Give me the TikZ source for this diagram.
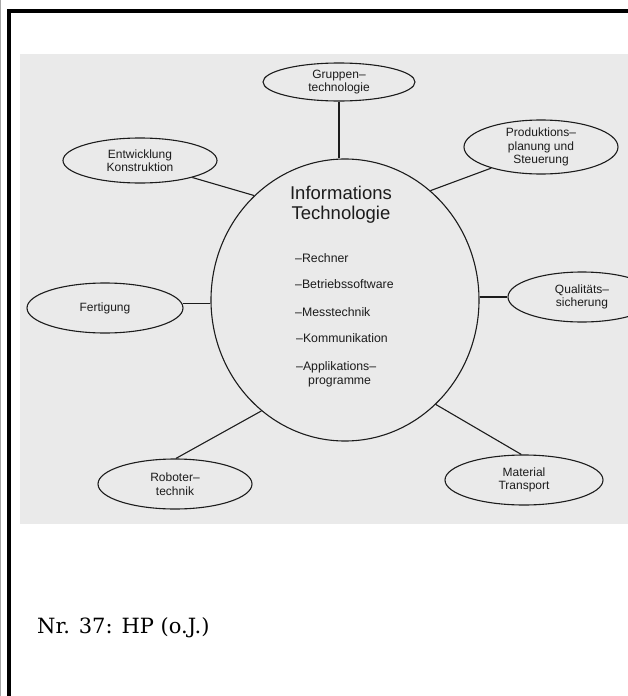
\documentclass[tikz,border=0pt]{standalone}
\usepackage{fontspec}
\setmainfont{Liberation Sans}
\newfontfamily\captionfont{DejaVu Serif}
\usetikzlibrary{shapes.geometric,calc}

\definecolor{paper}{RGB}{234,234,234}
\definecolor{ink}{RGB}{28,28,28}

\begin{document}
\begin{tikzpicture}[x=1pt,y=-1pt,
  topic/.style={ellipse, draw=ink, line width=1.1pt, inner sep=0pt, align=center,
                font=\fontsize{12}{13.5}\selectfont, text=ink},
  hub/.style={ellipse, draw=ink, line width=1.1pt, inner sep=0pt},
  link/.style={draw=ink, line width=1.1pt},
  title/.style={anchor=base, inner sep=0pt, font=\fontsize{18.5}{20}\selectfont, text=ink},
  entry/.style={anchor=base west, inner sep=0pt, font=\fontsize{12.3}{13}\selectfont, text=ink}]
\useasboundingbox (0,0) rectangle (628,696);
\begin{scope}
\clip (0,0) rectangle (628,696);
\fill[white] (0,0) rectangle (628,696);
% page frame
\draw[black!35, line width=1.2pt] (0.6,0) -- (0.6,696);
\draw[black, line width=3.2pt] (9,760) -- (9,11) -- (700,11);
% photographed sheet
\fill[paper] (20,54) rectangle (628,524);

% central circle
\node[hub, minimum width=268pt, minimum height=282pt] (it) at (345,300) {};
\node[title] (t1) at (341,199) {Informations};
\node[title] (t2) at (341,219) {Technologie};
\node[entry] (e1) at (295,262) {–Rechner};
\node[entry] (e2) at (295,288) {–Betriebssoftware};
\node[entry] (e3) at (295,316) {–Messtechnik};
\node[entry] (e4) at (296,342) {–Kommunikation};
\node[entry] (e5) at (296,370) {–Applikations–};
\node[entry] (e6) at (308,384) {programme};

% surrounding topics
\node[topic, minimum width=152pt, minimum height=38pt] (grp) at (339,82) {Gruppen–\\technologie};
\node[topic, minimum width=154pt, minimum height=45pt] (ent) at (140,160.5) {Entwicklung\\Konstruktion};
\node[topic, minimum width=156pt, minimum height=50pt] (fer) at (105,308) {Fertigung};
\node[topic, minimum width=154pt, minimum height=50pt] (pro) at (541,147) {Produktions–\\planung und\\Steuerung};
\node[topic, minimum width=148pt, minimum height=50pt] (qua) at (582,297) {Qualitäts–\\sicherung};
\node[topic, minimum width=158pt, minimum height=50pt] (mat) at (524,480) {Material\\Transport};
\node[topic, minimum width=154pt, minimum height=50pt] (rob) at (175,484) {Roboter–\\technik};

% spokes
\draw[link] (grp.south) -- (grp.south |- it.north);
\draw[link] (it.131) -- (ent.-18);
\draw[link] (fer.3.5) -- (fer.3.5 -| it.west);
\draw[link] (it.52) -- (pro.-157);
\draw[link] (qua.west) -- (qua.west -| it.east);
\draw[link] (it.-49) -- (mat.96);
\draw[link] (it.-127) -- (rob.88);

% caption
\node[anchor=base west, inner sep=0pt, font=\captionfont\fontsize{21}{24}\selectfont] (cap) at (37,633) {Nr. 37: HP (o.J.)};
\end{scope}
\end{tikzpicture}
\end{document}
